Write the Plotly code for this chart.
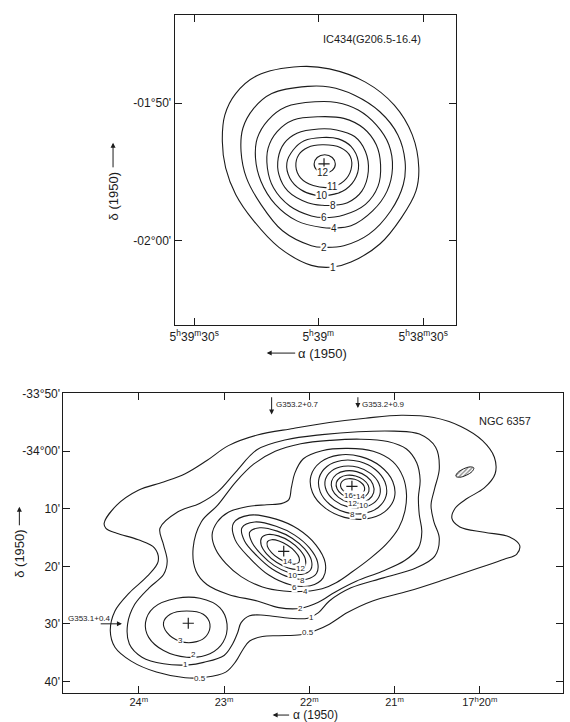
import plotly.graph_objects as go

FONT = "Liberation Sans"
INK = "#1c1c1c"

# ================= IC 434 (upper panel) =================
# RA: seconds of time relative to 5h39m00s (east positive, plotted leftwards)
# Dec: arcminutes south of -01°50'
IC_TICK_RA = [30, 0, -25.4]
IC_TICK_RA_TEXT = ["5<sup>h</sup>39<sup>m</sup>30<sup>s</sup>", "5<sup>h</sup>39<sup>m</sup>",
                   "5<sup>h</sup>38<sup>m</sup>30<sup>s</sup>"]
IC_TICK_DEC = [0, 10]
IC_TICK_DEC_TEXT = ["-01°50'", "-02°00'"]

ic_c1_ra = [4.28, 14.74, 19.97, 22.6, 23.2, 22.4, 19.97, 15.61, 9.51, 1.66, -3.57, -7.93, -14.91, -20.14, -23.63, -24.33, -22.76, -18.4, -11.42, -2.7]
ic_c1_dec = [-2.66, -2.01, -0.70, 0.86, 2.78, 4.70, 6.62, 8.54, 10.46, 11.77, 11.89, 11.53, 10.22, 8.30, 6.38, 4.70, 2.30, 0.14, -1.53, -2.49]
ic_c2_ra = [2.53, 11.25, 15.61, 18.23, 18.67, 17.36, 13.87, 8.64, 1.66, -1.39, -6.19, -12.29, -17.52, -20.58, -21.01, -19.27, -14.91, -8.8, -2.7]
ic_c2_dec = [-1.22, -0.70, 0.38, 1.82, 3.50, 5.42, 7.34, 9.26, 10.34, 10.46, 10.34, 9.50, 7.82, 5.90, 4.22, 2.30, 0.62, -0.58, -1.17]
ic_c4_ra = [0.79, 7.76, 12.12, 14.74, 15.18, 13.87, 10.38, 5.15, -0.95, -3.75, -7.93, -13.16, -16.65, -17.96, -17.09, -14.04, -9.68, -4.44]
ic_c4_dec = [-0.10, 0.26, 1.22, 2.54, 3.98, 5.66, 7.34, 8.54, 9.02, 9.06, 8.90, 7.82, 6.38, 4.70, 3.02, 1.58, 0.50, -0.05]
ic_c6_ra = [-0.08, 6.02, 9.94, 12.12, 12.3, 10.82, 6.89, 1.66, -1.39, -6.19, -11.42, -14.47, -15.08, -14.04, -10.98, -6.19]
ic_c6_dec = [0.98, 1.22, 2.06, 3.26, 4.70, 6.14, 7.46, 8.18, 8.30, 8.11, 7.34, 6.02, 4.46, 3.02, 1.82, 1.10]
ic_c8_ra = [-0.08, 5.15, 8.2, 9.68, 9.51, 7.33, 2.53, -0.95, -3.57, -7.06, -10.55, -12.12, -11.42, -8.8, -4.44]
ic_c8_dec = [1.87, 2.18, 2.90, 3.98, 5.18, 6.38, 7.22, 7.41, 7.41, 7.22, 6.38, 4.94, 3.50, 2.42, 1.94]
ic_c10_ra = [-0.95, 3.4, 6.02, 7.59, 6.89, 4.28, 0.79, -2.7, -6.62, -9.24, -9.68, -7.93, -4.88]
ic_c10_dec = [2.49, 2.73, 3.38, 4.34, 5.42, 6.26, 6.67, 6.67, 6.26, 5.30, 4.22, 3.14, 2.59]
ic_c11_ra = [-0.95, 2.53, 4.71, 5.41, 4.28, 1.22, -3.14, -6.19, -7.93, -7.76, -5.32]
ic_c11_dec = [3.02, 3.21, 3.74, 4.58, 5.42, 5.97, 6.09, 5.66, 4.82, 3.86, 3.21]
ic_c12_ra = [1.0, 0.25, -1.57, -3.39, -4.14, -3.39, -1.57, 0.25]
ic_c12_dec = [4.41, 3.94, 3.74, 3.94, 4.41, 4.88, 5.08, 4.88]

ic_peak_ra = [-1.4]
ic_peak_dec = [4.4]

ic_label_text = ["12", "11", "10", "8", "6", "4", "2", "1"]
ic_label_ra = [-1.13, -3.4, -0.95, -3.57, -1.39, -3.75, -1.39, -3.57]
ic_label_dec = [5.06, 6.02, 6.67, 7.41, 8.30, 9.06, 10.46, 11.89]

# ================= NGC 6357 (lower panel) =================
# RA: minutes past 17h ; Dec: arcminutes south of -34°00'
NGC_TICK_RA = [24, 23, 22, 21, 20]
NGC_TICK_RA_TEXT = ["24<sup>m</sup>", "23<sup>m</sup>", "22<sup>m</sup>", "21<sup>m</sup>", "17<sup>h</sup>20<sup>m</sup>"]
NGC_TICK_DEC = [-10, 0, 10, 20, 30, 40]
NGC_TICK_DEC_TEXT = ["-33°50'", "-34°00'", "10'", "20'", "30'", "40'"]

ngc_l05_ra = [24.407, 24.259, 24.006, 23.710, 23.456, 23.202, 22.949, 22.610, 22.188, 21.765, 21.342, 20.919, 20.539, 20.222, 19.968, 19.829, 19.820, 19.947, 20.150, 20.285, 20.327, 20.234, 19.947, 19.651, 19.532, 19.566, 19.714, 20.032, 20.412, 20.835, 21.258, 21.553, 21.765, 21.934, 22.103, 22.357, 22.55, 22.70, 22.78, 22.86, 22.98, 23.22, 23.456, 23.794, 24.090, 24.280, 24.335, 24.280, 24.111, 23.900, 23.773, 23.815, 24.006, 24.259, 24.386]
ngc_l05_dec = [12.53, 9.37, 6.78, 5.35, 3.91, 1.61, -0.98, -2.82, -3.97, -5.0, -5.75, -6.26, -5.86, -4.31, -1.84, 1.04, 3.91, 6.38, 8.22, 9.83, 11.67, 13.16, 14.08, 14.89, 16.38, 17.87, 18.79, 20.40, 22.30, 24.31, 26.03, 28.05, 30.06, 31.21, 31.89, 32.07, 32.2, 33.0, 34.5, 36.5, 38.4, 39.3, 39.37, 38.39, 36.49, 34.08, 31.21, 27.76, 24.60, 21.72, 19.14, 16.84, 15.40, 14.25, 13.39]

ngc_l1_ra = [23.752, 23.541, 23.287, 23.075, 22.864, 22.610, 22.272, 21.850, 21.427, 21.004, 20.708, 20.518, 20.475, 20.530, 20.572, 20.539, 20.475, 20.530, 20.750, 21.131, 21.511, 21.765, 21.892, 22.018, 22.23, 22.53, 22.70, 22.80, 22.84, 22.90, 23.00, 23.24, 23.414, 23.710, 23.963, 24.111, 24.132, 24.048, 23.879, 23.710, 23.667, 23.710]
ngc_l1_dec = [13.39, 10.52, 9.08, 7.07, 3.62, -0.3, -2.0, -2.9, -3.4, -3.5, -2.99, -0.69, 3.05, 6.50, 9.37, 12.24, 15.12, 18.28, 20.29, 22.01, 23.74, 26.03, 28.05, 29.02, 29.02, 28.5, 28.6, 29.8, 31.5, 33.5, 35.5, 36.7, 37.13, 36.95, 35.80, 33.51, 30.06, 26.61, 23.74, 21.44, 19.14, 16.26]

ngc_l2_ra = [22.103, 22.357, 22.610, 22.949, 23.202, 23.329, 23.363, 23.266, 23.075, 22.864, 22.65, 22.40, 22.10, 21.75, 21.40, 21.08, 20.86, 20.74, 20.70, 20.72, 20.71, 20.68, 20.72, 20.88, 21.15, 21.45, 21.70, 21.90]
ngc_l2_dec = [27.30, 27.18, 26.03, 24.89, 23.16, 20.86, 16.84, 12.24, 9.37, 5.35, 2.2, 0.0, -1.3, -1.9, -2.1, -1.7, -0.4, 2.0, 5.0, 8.0, 11.0, 14.0, 16.8, 19.0, 20.9, 22.6, 24.5, 26.3]

ngc_l4_ra = [22.05, 21.85, 21.68, 21.50, 21.30, 21.10, 20.95, 20.88, 20.86, 20.90, 21.02, 21.25, 21.55, 21.85, 22.07, 22.17, 22.21, 22.24, 22.33, 22.50, 22.72, 22.95, 23.08, 23.14, 23.10, 22.98, 22.80, 22.55, 22.30]
ngc_l4_dec = [24.35, 23.9, 22.8, 21.0, 18.8, 16.2, 13.3, 10.5, 7.5, 4.5, 1.8, 0.0, -0.5, -0.1, 1.3, 3.8, 6.3, 8.4, 9.1, 9.3, 9.6, 10.6, 12.3, 14.5, 17.0, 19.5, 21.8, 23.6, 24.3]

ngc_a6_ra = [21.838, 21.988, 22.223, 22.480, 22.691, 22.87, 22.89, 22.70, 22.389, 22.132, 21.921, 21.813]
ngc_a6_dec = [22.010, 23.395, 23.20, 21.478, 18.690, 15.4, 12.5, 11.1, 11.80, 13.522, 16.310, 19.417]
ngc_a8_ra = [21.916, 22.033, 22.223, 22.436, 22.614, 22.76, 22.79, 22.64, 22.389, 22.176, 21.998, 21.903]
ngc_a8_dec = [21.258, 22.238, 21.947, 20.465, 18.189, 15.6, 13.3, 12.3, 13.053, 14.535, 16.811, 19.272]
ngc_a10_ra = [21.984, 22.080, 22.236, 22.411, 22.558, 22.67, 22.70, 22.58, 22.376, 22.201, 22.054, 21.975]
ngc_a10_dec = [20.60, 21.379, 21.117, 19.887, 18.017, 15.9, 14.1, 13.3, 13.883, 15.113, 16.984, 18.992]
ngc_a12_ra = [22.052, 22.126, 22.248, 22.385, 22.501, 22.565, 22.560, 22.486, 22.364, 22.227, 22.111, 22.047]
ngc_a12_dec = [19.943, 20.52, 20.287, 19.308, 17.844, 16.288, 15.057, 14.48, 14.713, 15.692, 17.156, 18.712]
ngc_a14_ra = [22.121, 22.171, 22.257, 22.357, 22.443, 22.492, 22.491, 22.441, 22.355, 22.255, 22.169, 22.120]
ngc_a14_dec = [19.285, 19.625, 19.395, 18.657, 17.61, 16.533, 15.715, 15.375, 15.605, 16.343, 17.39, 18.467]

ngc_b6_ra = [21.003, 21.117, 21.330, 21.588, 21.819, 21.963, 21.981, 21.868, 21.654, 21.397, 21.165, 21.021]
ngc_b6_dec = [8.152, 10.532, 11.753, 11.490, 9.811, 7.168, 4.268, 1.888, 0.667, 0.930, 2.609, 5.252]
ngc_b8_ra = [21.099, 21.191, 21.365, 21.572, 21.758, 21.872, 21.885, 21.793, 21.620, 21.412, 21.226, 21.112]
ngc_b8_dec = [7.773, 9.770, 10.814, 10.624, 9.251, 7.063, 4.647, 2.650, 1.606, 1.796, 3.169, 5.357]
ngc_b10_ra = [21.172, 21.246, 21.385, 21.554, 21.706, 21.800, 21.812, 21.738, 21.599, 21.430, 21.278, 21.184]
ngc_b10_dec = [7.483, 9.019, 9.803, 9.624, 8.531, 6.815, 4.937, 3.401, 2.617, 2.796, 3.890, 5.605]
ngc_b12_ra = [21.245, 21.302, 21.410, 21.540, 21.657, 21.730, 21.739, 21.682, 21.574, 21.444, 21.327, 21.254]
ngc_b12_dec = [7.192, 8.393, 9.009, 8.875, 8.027, 6.692, 5.228, 4.027, 3.411, 3.545, 4.393, 5.728]
ngc_b14_ra = [21.301, 21.344, 21.427, 21.527, 21.618, 21.675, 21.683, 21.640, 21.558, 21.457, 21.367, 21.309]
ngc_b14_dec = [6.969, 7.825, 8.248, 8.125, 7.489, 6.510, 5.451, 4.595, 4.172, 4.295, 4.931, 5.910]
ngc_b16_ra = [21.352, 21.383, 21.443, 21.516, 21.583, 21.626, 21.632, 21.602, 21.541, 21.468, 21.401, 21.358]
ngc_b16_dec = [6.768, 7.360, 7.643, 7.542, 7.085, 6.393, 5.652, 5.060, 4.777, 4.878, 5.335, 6.027]

ngc_c2_ra = [23.555, 23.283, 23.050, 22.965, 23.012, 23.166, 23.439, 23.710, 23.884, 23.922, 23.826]
ngc_c2_dec = [25.57, 25.57, 27.19, 30.06, 33.22, 35.22, 35.81, 34.65, 32.36, 29.78, 27.19]
ngc_c3_ra = [23.439, 23.244, 23.166, 23.206, 23.322, 23.515, 23.671, 23.710, 23.632]
ngc_c3_dec = [27.76, 28.33, 30.06, 32.07, 33.10, 33.05, 31.50, 29.78, 28.33]

ngc_beam_ra = [20.070, 20.088, 20.158, 20.237, 20.280, 20.262, 20.192, 20.113]
ngc_beam_dec = [2.89, 3.49, 4.17, 4.52, 4.35, 3.75, 3.07, 2.72]

ngc_peak_ra = [22.30, 21.50, 23.42]
ngc_peak_dec = [17.4, 6.1, 29.9]

ngc_label_text = ["14", "12", "10", "8", "6", "4", "2", "1", "0.5",
                  "16", "14", "12", "10", "8", "6", "3", "2", "1", "0.5"]
ngc_label_ra = [22.251, 22.103, 22.200, 22.078, 22.170, 22.045, 22.103, 21.976, 22.018,
                21.535, 21.405, 21.495, 21.370, 21.490, 21.355, 23.515, 23.36, 23.457, 23.283]
ngc_label_dec = [19.25, 20.46, 21.55, 22.41, 23.74, 24.31, 27.30, 28.91, 31.49,
                 7.64, 7.85, 9.09, 9.49, 10.92, 11.3, 32.93, 35.4, 37.07, 39.54]

# source markers
src_names = ["G353.2+0.7", "G353.2+0.9", "G353.1+0.4"]
src_text_ra = [22.42, 21.405, 24.58]
src_text_dec = [-8.1, -8.1, 29.1]
src_head_ra = [22.442, 21.430, 24.198]
src_head_dec = [-6.4, -7.5, 30.0]
src_tail_ra = [22.442, 21.430, 24.465]
src_tail_dec = [-9.65, -9.65, 30.0]

# ============================================================
fig = go.Figure()
LINE = dict(color=INK, width=1.1, shape="spline", smoothing=1.0)


def add_loop(ra, dec, xa, ya):
    fig.add_trace(go.Scatter(x=list(ra) + [ra[0]], y=list(dec) + [dec[0]], mode="lines",
                             line=LINE, xaxis=xa, yaxis=ya, hoverinfo="skip", showlegend=False))


for ra, dec in [(ic_c1_ra, ic_c1_dec), (ic_c2_ra, ic_c2_dec), (ic_c4_ra, ic_c4_dec),
                (ic_c6_ra, ic_c6_dec), (ic_c8_ra, ic_c8_dec), (ic_c10_ra, ic_c10_dec),
                (ic_c11_ra, ic_c11_dec), (ic_c12_ra, ic_c12_dec)]:
    add_loop(ra, dec, "x", "y")

for ra, dec in [(ngc_l05_ra, ngc_l05_dec), (ngc_l1_ra, ngc_l1_dec), (ngc_l2_ra, ngc_l2_dec),
                (ngc_l4_ra, ngc_l4_dec),
                (ngc_a6_ra, ngc_a6_dec), (ngc_a8_ra, ngc_a8_dec), (ngc_a10_ra, ngc_a10_dec),
                (ngc_a12_ra, ngc_a12_dec), (ngc_a14_ra, ngc_a14_dec),
                (ngc_b6_ra, ngc_b6_dec), (ngc_b8_ra, ngc_b8_dec), (ngc_b10_ra, ngc_b10_dec),
                (ngc_b12_ra, ngc_b12_dec), (ngc_b14_ra, ngc_b14_dec), (ngc_b16_ra, ngc_b16_dec),
                (ngc_c2_ra, ngc_c2_dec), (ngc_c3_ra, ngc_c3_dec)]:
    add_loop(ra, dec, "x2", "y2")

# hatched beam ellipse
fig.add_trace(go.Scatter(x=ngc_beam_ra + [ngc_beam_ra[0]], y=ngc_beam_dec + [ngc_beam_dec[0]],
                         mode="lines", fill="toself", fillcolor="rgba(0,0,0,0)",
                         fillpattern=dict(shape="/", fgcolor=INK, size=3, solidity=0.45),
                         line=dict(color=INK, width=1, shape="spline"),
                         xaxis="x2", yaxis="y2", hoverinfo="skip", showlegend=False))

# peak crosses
cross = dict(symbol="cross-thin", size=8, line=dict(color=INK, width=1.2))
fig.add_trace(go.Scatter(x=ic_peak_ra, y=ic_peak_dec, mode="markers", marker=cross,
                         xaxis="x", yaxis="y", hoverinfo="skip", showlegend=False))
fig.add_trace(go.Scatter(x=ngc_peak_ra, y=ngc_peak_dec, mode="markers", marker=cross,
                         xaxis="x2", yaxis="y2", hoverinfo="skip", showlegend=False))

ann = []
for t, x, y in zip(ic_label_text, ic_label_ra, ic_label_dec):
    ann.append(dict(text=t, x=x, y=y, xref="x", yref="y", showarrow=False, bgcolor="white",
                    borderpad=0, xanchor="center", yanchor="middle",
                    font=dict(size=10, family=FONT, color=INK)))
for t, x, y in zip(ngc_label_text, ngc_label_ra, ngc_label_dec):
    ann.append(dict(text=t, x=x, y=y, xref="x2", yref="y2", showarrow=False, bgcolor="white",
                    borderpad=0, xanchor="center", yanchor="middle",
                    font=dict(size=8, family=FONT, color=INK)))

for name, tx, ty, hx, hy, sx, sy in zip(src_names, src_text_ra, src_text_dec, src_head_ra,
                                        src_head_dec, src_tail_ra, src_tail_dec):
    ann.append(dict(text=name, x=tx, y=ty, xref="x2", yref="y2", showarrow=False,
                    xanchor="left" if name != "G353.1+0.4" else "center", yanchor="middle",
                    font=dict(size=8, family=FONT, color=INK)))
    ann.append(dict(text="", x=hx, y=hy, xref="x2", yref="y2", ax=sx, ay=sy, axref="x2",
                    ayref="y2", showarrow=True, arrowhead=2, arrowsize=1, arrowwidth=1,
                    arrowcolor=INK))

W, H = 570, 722


def px(xp):
    return xp / W


def py(yp):
    return 1 - yp / H


def paper_text(text, x, y, size, angle=0):
    return dict(text=text, x=px(x), y=py(y), xref="paper", yref="paper", showarrow=False,
                xanchor="center", yanchor="middle", textangle=angle,
                font=dict(size=size, family=FONT, color=INK))


def paper_arrow(x, y, ax, ay):
    return dict(text="", x=px(x), y=py(y), xref="paper", yref="paper", ax=ax, ay=ay,
                showarrow=True, arrowhead=2, arrowsize=1, arrowwidth=1, arrowcolor=INK)


# titles
ann.append(paper_text("IC434(G206.5-16.4)", 370, 33, 11))
ann.append(paper_text("NGC 6357", 504, 418, 11))

# axis titles with arrows
ann.append(paper_text("δ (1950)", 109, 192, 13, -90))
ann.append(paper_arrow(109, 138, 0, 26))
ann.append(paper_text("α (1950)", 320, 350, 13))
ann.append(paper_arrow(264, 350, 30, 0))

ann.append(paper_text("δ (1950)", 14.5, 552, 13, -90))
ann.append(paper_arrow(14.5, 505, 0, 20))
ann.append(paper_text("α (1950)", 313, 715, 12))
ann.append(paper_arrow(270, 715, 18, 0))

axis_common = dict(showline=True, linecolor=INK, linewidth=1, mirror="allticks", ticks="inside",
                   ticklen=7, tickwidth=1, tickcolor=INK, showgrid=False, zeroline=False,
                   tickfont=dict(size=12, family=FONT, color=INK), tickmode="array")
axis_x2 = dict(axis_common, tickfont=dict(size=11, family=FONT, color=INK))

fig.update_layout(
    width=W, height=H, margin=dict(l=0, r=0, t=0, b=0),
    paper_bgcolor="white", plot_bgcolor="white", showlegend=False,
    xaxis=dict(domain=[px(171), px(455)], anchor="y", range=[34.77, -33.33],
               tickvals=IC_TICK_RA, ticktext=IC_TICK_RA_TEXT, **axis_common),
    yaxis=dict(domain=[py(322), py(9.5)], anchor="x", range=[16.12, -6.37],
               tickvals=IC_TICK_DEC, ticktext=IC_TICK_DEC_TEXT, **axis_common),
    xaxis2=dict(domain=[px(59), px(563)], anchor="y2", range=[24.884, 19.023],
                tickvals=NGC_TICK_RA, ticktext=NGC_TICK_RA_TEXT, ticklabelstandoff=-1, **axis_x2),
    yaxis2=dict(domain=[py(693), py(390)], anchor="x2", range=[42.07, -10.17],
                tickvals=NGC_TICK_DEC, ticktext=NGC_TICK_DEC_TEXT, **axis_common),
    annotations=ann,
)

# remove the browser's default 8px page margin so the figure sits at the window origin
fig.write_html("out.html", config={"displayModeBar": False},
               post_script="document.body.style.margin='0';document.body.style.overflow='hidden';")
